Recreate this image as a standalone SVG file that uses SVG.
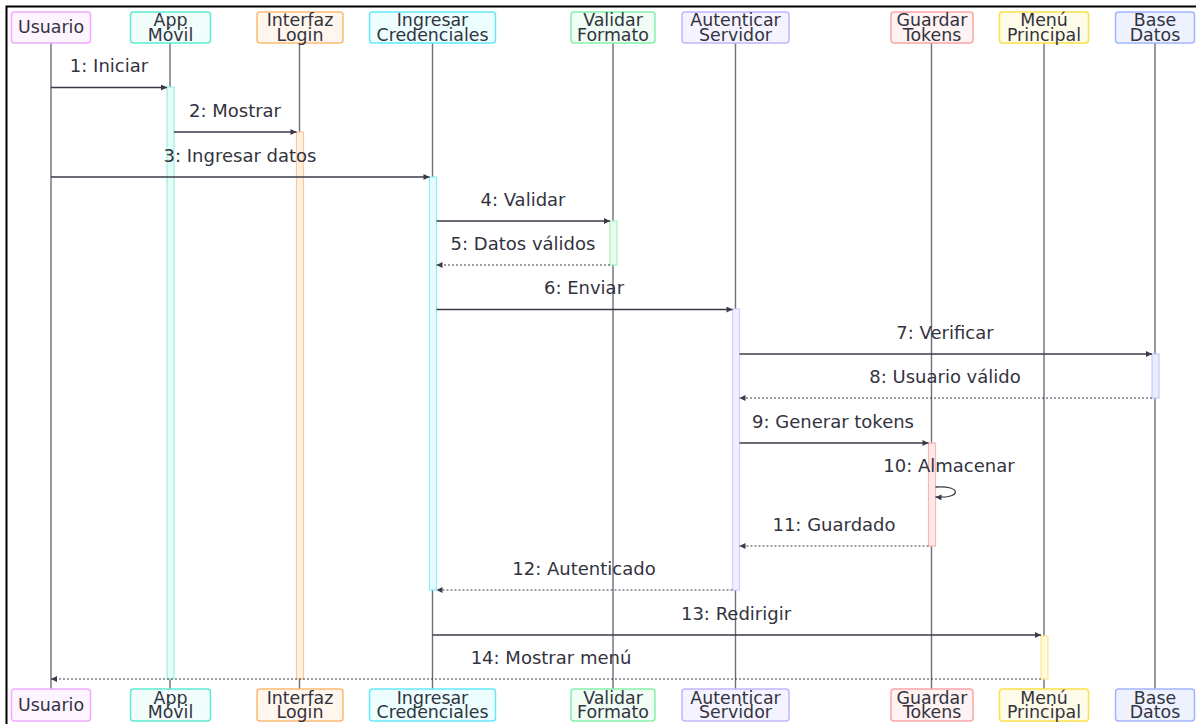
<svg xmlns="http://www.w3.org/2000/svg" width="1196" height="724" viewBox="0 0 1196 724">
  <style>
    .box { stroke-width: 1.5; }
    .name { font-family: "DejaVu Sans", sans-serif; font-size: 17.4px; fill: #333340; text-anchor: middle; }
    .lbl { font-family: "DejaVu Sans", sans-serif; font-size: 18px; fill: #333340; text-anchor: middle; }
    .life { stroke: #6e6e7c; stroke-width: 1.4; fill: none; }
    .msg { stroke: #3a3a48; stroke-width: 1.3; fill: none; marker-end: url(#arrow); }
    .ret { stroke: #3a3a48; stroke-width: 1.2; fill: none; stroke-dasharray: 2 2; marker-end: url(#arrow); }
    .act { stroke-width: 1.2; }
  </style>
  <defs>
    <marker id="arrow" viewBox="0 0 10 10" refX="10" refY="5" markerWidth="8" markerHeight="6" markerUnits="userSpaceOnUse" orient="auto">
      <path d="M0,0 L10,5 L0,10 z" fill="#3a3a48"/>
    </marker>
  </defs>

  <rect width="1196" height="724" fill="#ffffff"/>
  <!-- outer frame -->
  <path d="M6.5,724 V6.5 H1196" fill="none" stroke="#000000" stroke-width="2"/>

  <!-- lifelines -->
  <g id="lifelines">
    <line class="life" x1="51" y1="43" x2="51" y2="689"/>
    <line class="life" x1="170" y1="43" x2="170" y2="689"/>
    <line class="life" x1="299.5" y1="43" x2="299.5" y2="689"/>
    <line class="life" x1="432.5" y1="43" x2="432.5" y2="689"/>
    <line class="life" x1="613" y1="43" x2="613" y2="689"/>
    <line class="life" x1="735.5" y1="43" x2="735.5" y2="689"/>
    <line class="life" x1="931.5" y1="43" x2="931.5" y2="689"/>
    <line class="life" x1="1044" y1="43" x2="1044" y2="689"/>
    <line class="life" x1="1155" y1="43" x2="1155" y2="689"/>
  </g>

  <!-- activation bars -->
  <g id="activations">
    <rect class="act" x="167" y="87" width="7" height="592" fill="#e6fcf7" stroke="#99f0de"/>
    <rect class="act" x="296.5" y="132" width="7" height="547" fill="#fff1e2" stroke="#fdc99a"/>
    <rect class="act" x="429.5" y="177" width="7" height="413" fill="#e6fcff" stroke="#8aeefc"/>
    <rect class="act" x="610" y="221" width="7" height="44" fill="#eafcf0" stroke="#a7f0c0"/>
    <rect class="act" x="732.5" y="309" width="7" height="281" fill="#f1eeff" stroke="#d6cdfd"/>
    <rect class="act" x="1152" y="354" width="7" height="44" fill="#e9edff" stroke="#c3ccfd"/>
    <rect class="act" x="928.5" y="443" width="7" height="103" fill="#fee9e9" stroke="#fcb5b5"/>
    <rect class="act" x="1041" y="636" width="7" height="43" fill="#fefbe0" stroke="#fde68a"/>
  </g>

  <!-- messages -->
  <g id="connectors">
    <line class="msg" x1="51" y1="87.5" x2="167" y2="87.5"/>
    <line class="msg" x1="174" y1="132" x2="296.5" y2="132"/>
    <line class="msg" x1="51" y1="177" x2="429.5" y2="177"/>
    <line class="msg" x1="436.5" y1="221" x2="610" y2="221"/>
    <line class="ret" x1="610" y1="265" x2="436.5" y2="265"/>
    <line class="msg" x1="436.5" y1="309.5" x2="732.5" y2="309.5"/>
    <line class="msg" x1="739.5" y1="354" x2="1152" y2="354"/>
    <line class="ret" x1="1152" y1="398" x2="739.5" y2="398"/>
    <line class="msg" x1="739.5" y1="443" x2="928.5" y2="443"/>
    <path class="msg" d="M935.5,487 C962,485 962,499 935.5,497"/>
    <line class="ret" x1="928.5" y1="546" x2="739.5" y2="546"/>
    <line class="ret" x1="732.5" y1="590" x2="436.5" y2="590"/>
    <line class="msg" x1="432.5" y1="635" x2="1041" y2="635"/>
    <line class="ret" x1="1041" y1="679" x2="51" y2="679"/>
  </g>

  <!-- message labels -->
  <g id="labels">
    <text class="lbl" x="109" y="72">1: Iniciar</text>
    <text class="lbl" x="235" y="117">2: Mostrar</text>
    <text class="lbl" x="240" y="162">3: Ingresar datos</text>
    <text class="lbl" x="523" y="206">4: Validar</text>
    <text class="lbl" x="523" y="250">5: Datos válidos</text>
    <text class="lbl" x="584" y="294">6: Enviar</text>
    <text class="lbl" x="945" y="339">7: Verificar</text>
    <text class="lbl" x="945" y="383">8: Usuario válido</text>
    <text class="lbl" x="833" y="428">9: Generar tokens</text>
    <text class="lbl" x="949" y="472">10: Almacenar</text>
    <text class="lbl" x="834" y="531">11: Guardado</text>
    <text class="lbl" x="584" y="575">12: Autenticado</text>
    <text class="lbl" x="736" y="620">13: Redirigir</text>
    <text class="lbl" x="551" y="664">14: Mostrar menú</text>
  </g>

  <!-- participants, top -->
  <g id="usuario-top">
    <rect class="box" x="11.5" y="12" width="79" height="31" rx="3" fill="#fdf4ff" stroke="#f0abfc"/>
    <text class="name" x="51" y="33">Usuario</text>
  </g>
  <g id="appmovil-top">
    <rect class="box" x="130.5" y="12" width="80" height="31" rx="3" fill="#f0fdfa" stroke="#5eead4"/>
    <text class="name" x="170.5" y="26">App<tspan x="170.5" y="40.5">Móvil</tspan></text>
  </g>
  <g id="interfaz-top">
    <rect class="box" x="257" y="12" width="86" height="31" rx="3" fill="#fff7ed" stroke="#fdba74"/>
    <text class="name" x="300" y="26">Interfaz<tspan x="300" y="40.5">Login</tspan></text>
  </g>
  <g id="ingresar-top">
    <rect class="box" x="369.5" y="12" width="126" height="31" rx="3" fill="#ecfeff" stroke="#67e8f9"/>
    <text class="name" x="432.5" y="26">Ingresar<tspan x="432.5" y="40.5">Credenciales</tspan></text>
  </g>
  <g id="validar-top">
    <rect class="box" x="571" y="12" width="84" height="31" rx="3" fill="#f0fdf4" stroke="#86efac"/>
    <text class="name" x="613" y="26">Validar<tspan x="613" y="40.5">Formato</tspan></text>
  </g>
  <g id="autenticar-top">
    <rect class="box" x="682" y="12" width="107" height="31" rx="3" fill="#f5f3ff" stroke="#c4b5fd"/>
    <text class="name" x="735.5" y="26">Autenticar<tspan x="735.5" y="40.5">Servidor</tspan></text>
  </g>
  <g id="guardar-top">
    <rect class="box" x="891" y="12" width="82" height="31" rx="3" fill="#fef2f2" stroke="#fca5a5"/>
    <text class="name" x="932" y="26">Guardar<tspan x="932" y="40.5">Tokens</tspan></text>
  </g>
  <g id="menu-top">
    <rect class="box" x="999.5" y="12" width="89" height="31" rx="3" fill="#fefce8" stroke="#fde047"/>
    <text class="name" x="1044" y="26">Menú<tspan x="1044" y="40.5">Principal</tspan></text>
  </g>
  <g id="base-top">
    <rect class="box" x="1115.5" y="12" width="79" height="31" rx="3" fill="#eef2ff" stroke="#a5b4fc"/>
    <text class="name" x="1155" y="26">Base<tspan x="1155" y="40.5">Datos</tspan></text>
  </g>

  <!-- participants, bottom -->
  <g id="usuario-bottom">
    <rect class="box" x="11.5" y="689" width="79" height="32" rx="3" fill="#fdf4ff" stroke="#f0abfc"/>
    <text class="name" x="51" y="711">Usuario</text>
  </g>
  <g id="appmovil-bottom">
    <rect class="box" x="130.5" y="689" width="80" height="32" rx="3" fill="#f0fdfa" stroke="#5eead4"/>
    <text class="name" x="170.5" y="704">App<tspan x="170.5" y="718">Móvil</tspan></text>
  </g>
  <g id="interfaz-bottom">
    <rect class="box" x="257" y="689" width="86" height="32" rx="3" fill="#fff7ed" stroke="#fdba74"/>
    <text class="name" x="300" y="704">Interfaz<tspan x="300" y="718">Login</tspan></text>
  </g>
  <g id="ingresar-bottom">
    <rect class="box" x="369.5" y="689" width="126" height="32" rx="3" fill="#ecfeff" stroke="#67e8f9"/>
    <text class="name" x="432.5" y="704">Ingresar<tspan x="432.5" y="718">Credenciales</tspan></text>
  </g>
  <g id="validar-bottom">
    <rect class="box" x="571" y="689" width="84" height="32" rx="3" fill="#f0fdf4" stroke="#86efac"/>
    <text class="name" x="613" y="704">Validar<tspan x="613" y="718">Formato</tspan></text>
  </g>
  <g id="autenticar-bottom">
    <rect class="box" x="682" y="689" width="107" height="32" rx="3" fill="#f5f3ff" stroke="#c4b5fd"/>
    <text class="name" x="735.5" y="704">Autenticar<tspan x="735.5" y="718">Servidor</tspan></text>
  </g>
  <g id="guardar-bottom">
    <rect class="box" x="891" y="689" width="82" height="32" rx="3" fill="#fef2f2" stroke="#fca5a5"/>
    <text class="name" x="932" y="704">Guardar<tspan x="932" y="718">Tokens</tspan></text>
  </g>
  <g id="menu-bottom">
    <rect class="box" x="999.5" y="689" width="89" height="32" rx="3" fill="#fefce8" stroke="#fde047"/>
    <text class="name" x="1044" y="704">Menú<tspan x="1044" y="718">Principal</tspan></text>
  </g>
  <g id="base-bottom">
    <rect class="box" x="1115.5" y="689" width="79" height="32" rx="3" fill="#eef2ff" stroke="#a5b4fc"/>
    <text class="name" x="1155" y="704">Base<tspan x="1155" y="718">Datos</tspan></text>
  </g>
</svg>
